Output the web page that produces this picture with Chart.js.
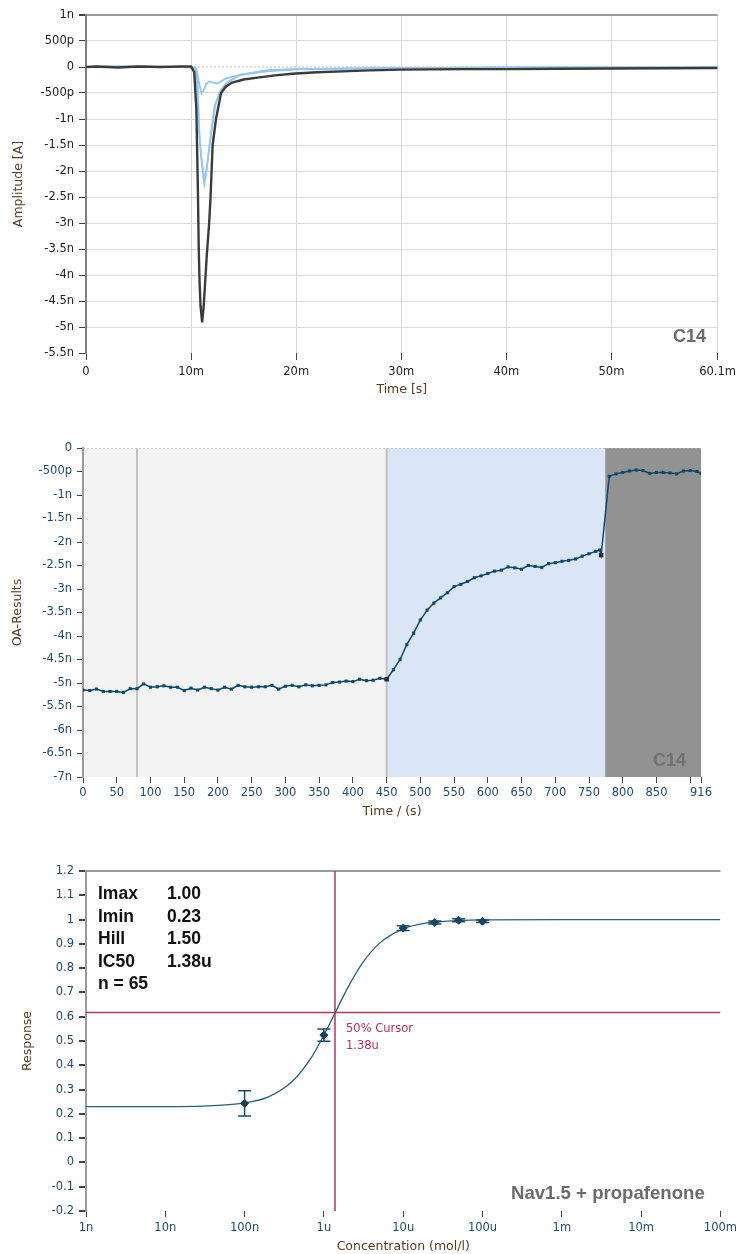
<!DOCTYPE html>
<html>
<head>
<meta charset="utf-8">
<title>C14 – Nav1.5 + propafenone</title>
<script src="https://cdn.jsdelivr.net/npm/chart.js@4.4.1/dist/chart.umd.min.js"></script>
<style>
  html, body { margin: 0; padding: 0; background: #fff; }
  #page { position: relative; width: 741px; height: 1254px; overflow: hidden; }
  canvas { position: absolute; left: 0; }
  .note { position: absolute; font-family: 'Liberation Sans', Arial, sans-serif; white-space: pre; }
  .tag { font-weight: bold; font-size: 18px; line-height: 20px; color: #6b6b6b; }
  .stats { font-weight: bold; font-size: 17.5px; line-height: 22.5px; color: #111; }
  .cursor { font-family: 'DejaVu Sans', sans-serif; font-size: 11.5px; line-height: 17px; color: #b8305a; }
</style>
</head>
<body>
<div id="page">
  <canvas id="traceChart" width="741" height="400" style="top:0"></canvas>
  <canvas id="oaChart" width="741" height="400" style="top:430px"></canvas>
  <canvas id="doseChart" width="741" height="399" style="top:855px"></canvas>

  <div class="note tag" style="left:673px; top:326px">C14</div>
  <div class="note tag" style="left:653px; top:750px; color:#727272">C14</div>

  <div class="note stats" style="left:98px; top:882px">Imax
Imin
Hill
IC50
n = 65</div>
  <div class="note stats" style="left:167px; top:882px">1.00
0.23
1.50
1.38u</div>
  <div class="note cursor" style="left:346px; top:1020px">50% Cursor
1.38u</div>
  <div class="note tag" style="left:511px; top:1183px; font-size:18.6px">Nav1.5 + propafenone</div>
</div>

<script>
/* ---------- shared look ---------- */
const TICK_FONT = { family: "'DejaVu Sans', sans-serif", size: 11.5 };
const TITLE_FONT = { family: "'DejaVu Sans', sans-serif", size: 12.5 };
const TITLE_COLOR = '#5b3a1e';
const NAVY = '#1d4a72';
const TEAL = '#0b4a6e';

Chart.defaults.font.family = TICK_FONT.family;
Chart.defaults.animation = false;

/* ---------- panel 1: current traces (time in ms, current in nA) ---------- */
const traceTicks = [0, 10, 20, 30, 40, 50, 60.1];
const ampTicks = [1, 0.5, 0, -0.5, -1, -1.5, -2, -2.5, -3, -3.5, -4, -4.5, -5, -5.5];

const ctrlTime = [0, 1, 3, 5, 7, 9, 10.0, 10.3, 10.5, 10.65, 10.72, 10.8, 10.9, 11.05, 11.2, 11.35, 11.5, 11.72, 11.85, 12.05, 12.37, 12.85, 13.3, 13.9, 15, 16.5, 18, 19.6, 22, 25, 27, 30, 33, 36, 40, 45, 50, 55, 60.1];
const ctrlAmp = [0.0, 0.01, -0.01, 0.01, 0.0, 0.01, 0.01, -0.1, -0.8, -2.4, -3.4, -4.1, -4.6, -4.91, -4.6, -4.1, -3.6, -3.0, -2.5, -1.5, -1.0, -0.5, -0.38, -0.3, -0.24, -0.2, -0.16, -0.13, -0.1, -0.08, -0.064, -0.05, -0.045, -0.04, -0.04, -0.035, -0.03, -0.025, -0.02];

const drugATime = [0, 2, 4, 6, 8, 10, 10.4, 10.6, 10.75, 10.9, 11.1, 11.26, 11.4, 11.57, 11.9, 12.21, 12.68, 13.32, 14.57, 17.1, 20.25, 25, 30, 40, 50, 60.1];
const drugAAmp = [0, 0.01, 0, 0.01, 0, 0, -0.02, -0.3, -1.2, -1.6, -2.0, -2.25, -2.1, -1.8, -1.28, -0.77, -0.51, -0.32, -0.16, -0.065, -0.04, -0.03, -0.02, -0.01, -0.01, -0.01];

const drugBTime = [0, 3, 6, 9, 10.4, 10.65, 10.8, 10.95, 11.15, 11.3, 11.5, 11.7, 12.0, 12.35, 12.8, 13.5, 14.8, 17.5, 21, 26, 32, 40, 50, 60.1];
const drugBAmp = [0, 0.01, 0, 0, -0.02, -0.5, -1.3, -1.7, -2.0, -2.15, -1.95, -1.6, -1.15, -0.7, -0.45, -0.28, -0.14, -0.06, -0.035, -0.025, -0.02, -0.015, -0.01, -0.01];

const drugCTime = [0, 2, 4, 6, 8, 10, 10.5, 10.75, 11.0, 11.2, 11.45, 11.75, 12.1, 12.5, 12.9, 13.3, 14.9, 17.4, 20.5, 25, 30, 40, 50, 60.1];
const drugCAmp = [0, 0, 0.01, 0, 0, 0, -0.03, -0.3, -0.51, -0.45, -0.32, -0.28, -0.3, -0.32, -0.27, -0.22, -0.14, -0.08, -0.04, -0.03, -0.02, -0.01, -0.01, -0.01];

/* ---------- panel 2: OA results over the experiment (s, nA) ---------- */
const oaTicks = [0, 50, 100, 150, 200, 250, 300, 350, 400, 450, 500, 550, 600, 650, 700, 750, 800, 850, 900, 916];
const oaAmpTicks = [0, -0.5, -1, -1.5, -2, -2.5, -3, -3.5, -4, -4.5, -5, -5.5, -6, -6.5, -7];

const oaTime = [0, 10, 20, 30, 40, 50, 60, 70, 80, 90, 100, 110, 120, 130, 140, 150, 160, 170, 180, 190,
  200, 210, 220, 230, 240, 250, 260, 270, 280, 290, 300, 310, 320, 330, 340, 350, 360, 370, 380, 390,
  400, 410, 420, 430, 440, 450,
  460, 470, 480, 490, 500, 510, 520, 530, 540, 550, 560, 570, 580, 590, 600, 610, 620, 630, 640, 650,
  660, 670, 680, 690, 700, 710, 720, 730, 740, 750, 760, 766, 768,
  780, 790, 800, 810, 820, 830, 840, 850, 860, 870, 880, 890, 900, 910, 916];
const oaValue = [-5.15, -5.16, -5.13, -5.18, -5.18, -5.18, -5.2, -5.12, -5.12, -5.02, -5.09, -5.08, -5.06, -5.09, -5.09, -5.16, -5.11, -5.15, -5.09, -5.12,
  -5.15, -5.09, -5.13, -5.05, -5.08, -5.09, -5.08, -5.08, -5.05, -5.13, -5.07, -5.05, -5.08, -5.04, -5.06, -5.05, -5.04, -4.99, -4.98, -4.96,
  -4.97, -4.92, -4.95, -4.94, -4.9, -4.92,
  -4.72, -4.5, -4.18, -3.94, -3.66, -3.45, -3.3, -3.19, -3.08, -2.95, -2.9, -2.84, -2.76, -2.72, -2.67, -2.62, -2.6, -2.53, -2.55, -2.58,
  -2.5, -2.52, -2.54, -2.46, -2.44, -2.41, -2.39, -2.36, -2.3, -2.25, -2.2, -2.17, -2.28,
  -0.6, -0.55, -0.52, -0.49, -0.47, -0.48, -0.54, -0.52, -0.52, -0.53, -0.55, -0.49, -0.48, -0.5, -0.54];

// points closing each application phase
const oaEdgeTime = [450, 768];
const oaEdgeValue = [-4.92, -2.28];

// application phases: control, compound, reference
const phaseStart = [0, 450, 774];
const phaseEnd = [450, 774, 916];
const phaseMarks = [80, 450];
const PHASE_COLORS = ['#f3f3f3', '#dae6f6', '#929292'];

/* ---------- panel 3: concentration response ---------- */
const concTicks = [1e-9, 1e-8, 1e-7, 1e-6, 1e-5, 1e-4, 1e-3, 1e-2, 1e-1];
const concTickLabels = ['1n', '10n', '100n', '1u', '10u', '100u', '1m', '10m', '100m'];
const respTicks = [1.2, 1.1, 1, 0.9, 0.8, 0.7, 0.6, 0.5, 0.4, 0.3, 0.2, 0.1, 0, -0.1, -0.2];

const doseConc = [1e-7, 1e-6, 1e-5, 2.5e-5, 5e-5, 1e-4];
const doseResp = [0.243, 0.524, 0.965, 0.988, 0.997, 0.993];
const doseErr = [0.052, 0.025, 0.01, 0.006, 0.006, 0.005];

const fitConc = [1e-9, 1e-8, 3e-8, 1e-7, 2e-7, 4e-7, 7e-7, 1e-6, 1.38e-6, 2e-6, 3e-6, 5e-6, 1e-5, 2e-5, 5e-5, 1e-4, 1e-3, 1e-1];
const fitResp = [0.23, 0.23, 0.232, 0.245, 0.27, 0.334, 0.434, 0.524, 0.615, 0.72, 0.817, 0.902, 0.962, 0.986, 0.996, 0.999, 1.0, 1.0];

const cursorConc = 1.38e-6;
const cursorResp = 0.617;

/* ---------- helpers ---------- */
function pts(xs, ys) { return xs.map((x, i) => ({ x, y: ys[i] })); }

function siAmp(v) {
  if (Math.abs(v) < 1e-9) return '0';
  if (Math.abs(v) < 1) return Math.round(v * 1000) + 'p';
  return (Math.round(v * 10) / 10) + 'n';
}

function fixedTicks(list) {
  return axis => { axis.ticks = list.map(v => ({ value: v })); };
}

/* ---------- panel 1 ---------- */
function renderTraceChart() {
  const ctx = document.getElementById('traceChart');
  new Chart(ctx, {
    type: 'line',
    data: {
      datasets: [
        { data: pts(ctrlTime, ctrlAmp), borderColor: '#3b3b3b', borderWidth: 2.4 },
        { data: pts(drugCTime, drugCAmp), borderColor: '#93c5f3', borderWidth: 1.8 },
        { data: pts(drugATime, drugAAmp), borderColor: '#93c5f3', borderWidth: 1.8 },
        { data: pts(drugBTime, drugBAmp), borderColor: '#a9d1f6', borderWidth: 1.8 },
        { data: pts([0, 60.1], [0, 0]), borderColor: '#bdbdbd', borderWidth: 1, borderDash: [2, 2] },
      ],
    },
    options: {
      responsive: false,
      layout: { padding: { top: 15, right: 20, bottom: 0, left: 0 } },
      elements: { point: { radius: 0 }, line: { tension: 0 } },
      plugins: { legend: { display: false }, tooltip: { enabled: false } },
      scales: {
        x: {
          type: 'linear', min: 0, max: 60.1,
          afterBuildTicks: fixedTicks(traceTicks),
          afterFit: s => { s.height = 47; },
          grid: { color: '#d9d9d9', tickColor: '#444', tickLength: 7 },
          border: { display: false },
          ticks: { font: TICK_FONT, color: '#222', padding: 5, maxRotation: 0, autoSkip: false,
                   callback: v => (v === 0 ? '0' : v + 'm') },
          title: { display: true, text: 'Time [s]', font: TITLE_FONT, color: TITLE_COLOR, padding: { top: 0, bottom: 3 } },
        },
        y: {
          min: -5.5, max: 1,
          afterBuildTicks: fixedTicks(ampTicks),
          afterFit: s => { s.width = 86; },
          grid: {
            color: c => (c.tick.value === 1 ? '#9a9a9a' : (c.tick.value === 0 || c.tick.value === -5.5 ? 'rgba(0,0,0,0)' : '#d9d9d9')),
            lineWidth: c => (c.tick.value === 1 ? 2 : 1),
            tickColor: '#444', tickLength: 7,
          },
          border: { color: '#808080', width: 2 },
          ticks: { font: TICK_FONT, color: '#222', padding: 5, autoSkip: false, callback: siAmp },
          title: { display: true, text: 'Amplitude [A]', font: TITLE_FONT, color: TITLE_COLOR, padding: { top: 11, bottom: 0 } },
        },
      },
    },
  });
}

/* ---------- panel 2 ---------- */
const phaseBands = {
  id: 'phaseBands',
  beforeDraw(chart) {
    const { ctx, chartArea: a, scales: { x } } = chart;
    ctx.save();
    phaseStart.forEach((s, i) => {
      const x0 = x.getPixelForValue(s);
      const x1 = x.getPixelForValue(phaseEnd[i]);
      ctx.fillStyle = PHASE_COLORS[i];
      ctx.fillRect(x0, a.top, x1 - x0, a.bottom - a.top);
    });
    ctx.strokeStyle = '#c2c2c2';
    ctx.lineWidth = 2;
    phaseMarks.forEach(t => {
      const px = x.getPixelForValue(t);
      ctx.beginPath(); ctx.moveTo(px, a.top); ctx.lineTo(px, a.bottom); ctx.stroke();
    });
    ctx.restore();
  },
};

function renderOaChart() {
  const ctx = document.getElementById('oaChart');
  new Chart(ctx, {
    type: 'line',
    data: {
      datasets: [
        { data: pts(oaEdgeTime, oaEdgeValue), showLine: false, pointStyle: 'rect', pointRadius: 3.2,
          pointBackgroundColor: '#2a2f35', pointBorderWidth: 0 },
        { data: pts(oaTime, oaValue), borderColor: TEAL, borderWidth: 1.5, pointStyle: 'rect', pointRadius: 2.2,
          pointBackgroundColor: TEAL, pointBorderWidth: 0 },
        { data: pts([0, 916], [0, 0]), borderColor: '#b0b0b0', borderWidth: 1, borderDash: [2, 2], pointRadius: 0 },
      ],
    },
    plugins: [phaseBands],
    options: {
      responsive: false,
      layout: { padding: { top: 18, right: 40, bottom: 0, left: 0 } },
      elements: { line: { tension: 0 } },
      plugins: { legend: { display: false }, tooltip: { enabled: false } },
      scales: {
        x: {
          type: 'linear', min: 0, max: 916,
          afterBuildTicks: fixedTicks(oaTicks),
          afterFit: s => { s.height = 53; },
          grid: { drawOnChartArea: false, tickColor: '#444', tickLength: 6 },
          border: { display: false },
          ticks: { font: TICK_FONT, color: NAVY, padding: 3, maxRotation: 0, autoSkip: false,
                   callback: v => (v === 900 ? '' : String(v)) },
          title: { display: true, text: 'Time / (s)', font: TITLE_FONT, color: TITLE_COLOR, padding: { top: 0, bottom: 11 } },
        },
        y: {
          min: -7, max: 0,
          afterBuildTicks: fixedTicks(oaAmpTicks),
          afterFit: s => { s.width = 83; },
          grid: { drawOnChartArea: false, tickColor: '#444', tickLength: 6 },
          border: { color: '#9a9a9a', width: 2 },
          ticks: { font: TICK_FONT, color: NAVY, padding: 5, autoSkip: false, callback: siAmp },
          title: { display: true, text: 'OA-Results', font: TITLE_FONT, color: TITLE_COLOR, padding: { top: 10, bottom: 0 } },
        },
      },
    },
  });
}

/* ---------- panel 3 ---------- */
const errorBars = {
  id: 'errorBars',
  afterDatasetsDraw(chart) {
    const { ctx, scales: { x, y } } = chart;
    ctx.save();
    ctx.strokeStyle = '#1a4a68';
    ctx.lineWidth = 1.5;
    doseConc.forEach((c, i) => {
      const px = x.getPixelForValue(c);
      const top = y.getPixelForValue(doseResp[i] + doseErr[i]);
      const bot = y.getPixelForValue(doseResp[i] - doseErr[i]);
      ctx.beginPath();
      ctx.moveTo(px, top); ctx.lineTo(px, bot);
      ctx.moveTo(px - 6.5, top); ctx.lineTo(px + 6.5, top);
      ctx.moveTo(px - 6.5, bot); ctx.lineTo(px + 6.5, bot);
      ctx.stroke();
    });
    ctx.restore();
  },
};

function renderDoseChart() {
  const ctx = document.getElementById('doseChart');
  new Chart(ctx, {
    type: 'line',
    data: {
      datasets: [
        { data: pts(doseConc, doseResp), showLine: false, pointStyle: 'rectRot', pointRadius: 4,
          pointBackgroundColor: '#123f5c', pointBorderColor: '#123f5c', pointBorderWidth: 1 },
        { data: pts(fitConc, fitResp), borderColor: '#2a5f7f', borderWidth: 1.3, pointRadius: 0,
          cubicInterpolationMode: 'monotone' },
        { data: pts([1e-9, 1e-1], [cursorResp, cursorResp]), borderColor: '#b4385c', borderWidth: 1.5, pointRadius: 0 },
        { data: pts([cursorConc, cursorConc], [-0.2, 1.2]), borderColor: '#b4385c', borderWidth: 1.5, pointRadius: 0 },
      ],
    },
    plugins: [errorBars],
    options: {
      responsive: false,
      layout: { padding: { top: 16, right: 19, bottom: 0, left: 0 } },
      plugins: { legend: { display: false }, tooltip: { enabled: false } },
      scales: {
        x: {
          type: 'logarithmic', min: 1e-9, max: 1e-1,
          afterBuildTicks: fixedTicks(concTicks),
          afterFit: s => { s.height = 43; },
          grid: { drawOnChartArea: false, tickColor: '#444', tickLength: 6 },
          border: { display: false },
          ticks: { font: TICK_FONT, color: NAVY, padding: 4, maxRotation: 0, autoSkip: false,
                   callback: v => concTickLabels[concTicks.findIndex(t => Math.abs(Math.log10(t) - Math.log10(v)) < 0.01)] },
          title: { display: true, text: 'Concentration (mol/l)', font: TITLE_FONT, color: TITLE_COLOR, padding: { top: 0, bottom: 0 } },
        },
        y: {
          min: -0.2, max: 1.2,
          afterBuildTicks: fixedTicks(respTicks),
          afterFit: s => { s.width = 86; },
          grid: {
            color: c => (Math.abs(c.tick.value - 1.2) < 1e-6 ? '#9a9a9a' : 'rgba(0,0,0,0)'),
            lineWidth: 2, tickColor: '#444', tickLength: 7,
          },
          border: { color: '#9a9a9a', width: 2 },
          ticks: { font: TICK_FONT, color: NAVY, padding: 5, autoSkip: false,
                   callback: v => String(Math.round(v * 10) / 10) },
          title: { display: true, text: 'Response', font: TITLE_FONT, color: TITLE_COLOR, padding: { top: 20, bottom: 0 } },
        },
      },
    },
  });
}

renderTraceChart();
renderOaChart();
renderDoseChart();
</script>
</body>
</html>
